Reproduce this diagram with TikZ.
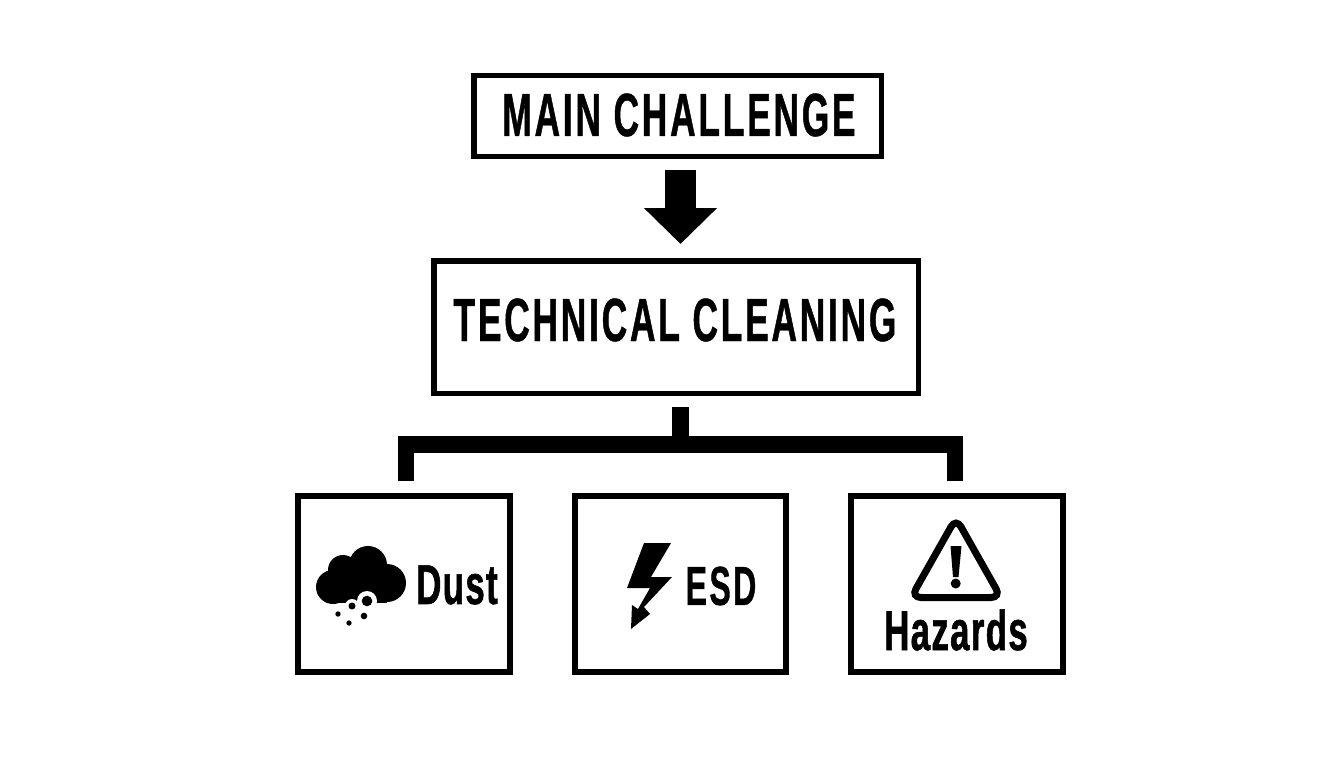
\documentclass[tikz,border=0pt]{standalone}
\usepackage{fontspec}
\usetikzlibrary{arrows.meta}
\newfontfamily\signfont[FakeStretch=0.58,FakeBold=0.7,LetterSpace=4.5]{Liberation Sans Bold}
\newfontfamily\tilefont[FakeStretch=0.62,FakeBold=1,LetterSpace=2.5]{Liberation Sans Bold}
\tikzset{
  headbox/.style={draw,line width=5.5pt,inner sep=0pt},
  tilebox/.style={draw,line width=6pt,inner sep=0pt,minimum height=176pt},
  headtext/.style={font=\signfont\fontsize{61}{61}\selectfont,inner sep=0pt},
  tiletext/.style={font=\tilefont\fontsize{56}{56}\selectfont,inner sep=0pt},
  bigarrow/.style={line width=31pt,-{Triangle[length=36pt,width=71pt]}},
  branch/.style={line width=16.5pt}
}
\begin{document}
\begin{tikzpicture}[x=1pt,y=-1pt]
\useasboundingbox (0,0) rectangle (1344,768);
\node[headbox,minimum width=407.5pt,minimum height=80.5pt] (main) at (677.5,116) {};
\node[headtext] (maintext) at (679,115) {MAIN CHALLENGE};
\node[headbox,minimum width=484.5pt,minimum height=132.5pt] (tech) at (676,327) {};
\node[headtext] (techtext) at (675,320) {TECHNICAL CLEANING};
\node[tilebox,minimum width=212pt] (dust) at (404,584) {};
\node[tilebox,minimum width=211pt] (esd) at (680.5,584) {};
\node[tilebox,minimum width=212pt] (hazards) at (957,584) {};
\node[tiletext] (dusttext) at (457,585) {Dust};
\node[headtext,font=\signfont\fontsize{55}{55}\selectfont] (esdtext) at (721,586) {ESD};
\node[tiletext] (hazardstext) at (956,630) {Hazards};
\coordinate (split) at (680.5,444.5);
% connectors
\draw[bigarrow,shorten <=11pt,shorten >=14pt] (main.south -| split) -- (tech.north -| split);
\draw[line width=17pt,shorten <=11pt] (tech.south -| split) -- (split);
\draw[branch,shorten <=12pt,shorten >=12pt] ([xshift=2pt]dust.north) |- (split) -| ([xshift=-2pt]hazards.north);
% dust cloud
\fill (333,587) circle (17) (343,570) circle (15) (368,565) circle (19) (387,583) circle (19);
\fill (333,572) rectangle (387,603);
\fill[white] (367,601) circle (10) (352,606) circle (7);
\fill (367,601) circle (5.3) (352,606) circle (3.5) (338,614) circle (2.7) (349,623) circle (2.7) (364,616) circle (3.3);
% bolt
\fill (644,543) -- (671,543) -- (651,577) -- (672,577) -- (644,607) -- (650,614) -- (631,629) -- (632,605) -- (638,609) -- (650,588) -- (627,588) -- cycle;
% warning sign
\draw[line width=7pt,rounded corners=10pt] (956,518) -- (1001,597.5) -- (911,597.5) -- cycle;
\fill (950.5,546) -- (961.5,546) -- (958.5,577) -- (953,577) -- cycle;
\fill (955.7,583.5) circle (5);
\end{tikzpicture}
\end{document}
